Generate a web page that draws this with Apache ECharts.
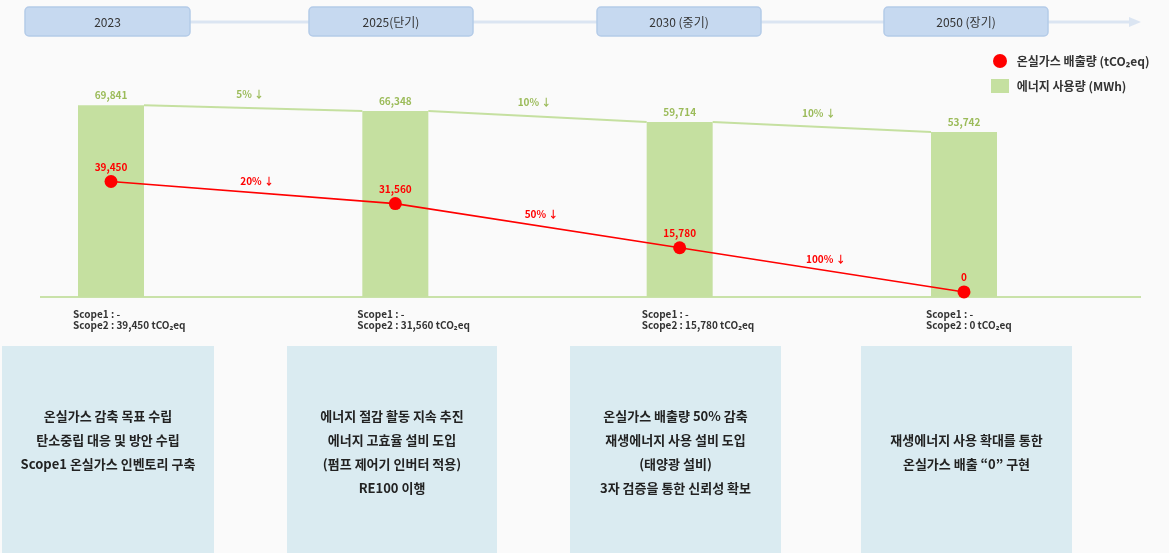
<!DOCTYPE html>
<html><head><meta charset="utf-8">
<script src="https://cdn.jsdelivr.net/npm/echarts@6/dist/echarts.min.js"></script>
<style>html,body{margin:0;padding:0;background:#fafafa}#c{width:1169px;height:553px}</style>
</head><body><div id="c"></div>
<script>
// ---- data ----
const categories = ['2023', '2025', '2030', '2050'];
const timelineLabels = ['2023', '2025(단기)', '2030 (중기)', '2050 (장기)'];
const energyMWh = [69841, 66348, 59714, 53742];
const emissions = [39450, 31560, 15780, 0];
const energyCutLabels = ['5% ↓', '10% ↓', '10% ↓'];
const emissionCutLabels = ['20% ↓', '50% ↓', '100% ↓'];
const scope1Values = ['-', '-', '-', '-'];
const plans = [
  ['온실가스 감축 목표 수립', '탄소중립 대응 및 방안 수립', 'Scope1 온실가스 인벤토리 구축'],
  ['에너지 절감 활동 지속 추진', '에너지 고효율 설비 도입', '(펌프 제어기 인버터 적용)', 'RE100 이행'],
  ['온실가스 배출량 50% 감축', '재생에너지 사용 설비 도입', '(태양광 설비)', '3자 검증을 통한 신뢰성 확보'],
  ['재생에너지 사용 확대를 통한', '온실가스 배출 “0” 구현']
];
const seriesNames = ['온실가스 배출량 (tCO₂eq)', '에너지 사용량 (MWh)'];

// ---- style ----
const FONT = '"Noto Sans CJK KR", "Noto Sans", sans-serif';
const BAR_W = 66;
const GREEN = '#c5e0a0';
const GREEN_TXT = '#9bbb59';
const RED = '#ff0000';
const BAR_AXIS_MIN = -46000;
const fmt = v => v.toLocaleString('en-US');

const energySegments = energyMWh.slice(0, -1).map((v, i) => [i, v, energyMWh[i + 1]]);
const emissionSegments = emissions.slice(0, -1).map((v, i) => [i, v, emissions[i + 1]]);

const chart = echarts.init(document.getElementById('c'));

function segRender(labels, color, txtColor, lineOn, offX, offY) {
  return function (params, api) {
    const i = api.value(0);
    const p0 = api.coord([i, api.value(1)]);
    const p1 = api.coord([i + 1, api.value(2)]);
    const children = [];
    if (lineOn) {
      children.push({
        type: 'line',
        shape: { x1: p0[0] + BAR_W / 2, y1: p0[1], x2: p1[0] - BAR_W / 2, y2: p1[1] },
        style: { stroke: color, lineWidth: 2 }
      });
    }
    children.push({
      type: 'text',
      x: (p0[0] + p1[0]) / 2 + offX,
      y: (p0[1] + p1[1]) / 2 - offY,
      style: {
        text: labels[params.dataIndex], fill: txtColor, font: 'bold 10px ' + FONT,
        textAlign: 'center', textVerticalAlign: 'middle'
      }
    });
    return { type: 'group', children };
  };
}

// bars drawn from the bottom of the value axis up to each value
function barRender(params, api) {
  const top = api.coord([api.value(0), api.value(1)]);
  const base = api.coord([api.value(0), BAR_AXIS_MIN]);
  return {
    type: 'rect',
    shape: { x: top[0] - BAR_W / 2, y: top[1], width: BAR_W, height: base[1] - top[1] },
    style: { fill: GREEN },
    textContent: {
      style: { text: fmt(api.value(1)), fill: GREEN_TXT, font: 'bold 10px ' + FONT }
    },
    textConfig: { position: 'top', distance: 5 }
  };
}

chart.setOption({
  backgroundColor: '#fafafa',
  animation: false,
  textStyle: { fontFamily: FONT },
  grid: { left: 111, right: 205, top: 100, bottom: 256 },
  legend: {
    orient: 'vertical', left: 986, top: 49, itemWidth: 18, itemHeight: 14, itemGap: 11,
    data: [{ name: seriesNames[0], icon: 'circle' }, { name: seriesNames[1], icon: 'rect' }],
    formatter: n => ' ' + n,
    textStyle: { fontFamily: FONT, fontSize: 12, fontWeight: 'bold', color: '#333' }
  },
  xAxis: {
    type: 'category', data: categories, boundaryGap: false,
    axisLine: { show: false }, axisTick: { show: false }, axisLabel: { show: false }
  },
  yAxis: [
    { type: 'value', min: BAR_AXIS_MIN, max: 73000, show: false, splitLine: { show: false } },
    { type: 'value', min: -1800, max: 68560, show: false, splitLine: { show: false } }
  ],
  series: [
    {
      name: seriesNames[1], type: 'custom', yAxisIndex: 0, z: 2,
      data: energyMWh.map((v, i) => [i, v]),
      itemStyle: { color: GREEN },
      renderItem: barRender
    },
    {
      type: 'custom', data: energySegments, yAxisIndex: 0, z: 3, silent: true,
      renderItem: segRender(energyCutLabels, GREEN, GREEN_TXT, true, -3, 14)
    },
    {
      name: seriesNames[0], type: 'line', data: emissions, yAxisIndex: 1, z: 5,
      symbol: 'circle', symbolSize: 13,
      lineStyle: { color: RED, width: 1.6 }, itemStyle: { color: RED },
      label: {
        show: true, position: 'top', distance: 3, formatter: p => fmt(p.value),
        color: RED, fontSize: 10, fontWeight: 'bold', fontFamily: FONT
      }
    },
    {
      type: 'custom', data: emissionSegments, yAxisIndex: 1, z: 6, silent: true,
      renderItem: segRender(emissionCutLabels, RED, RED, false, 4, 11)
    }
  ]
});

// ---- layout graphics (boxes, timeline, scope notes) ----
const topBoxes = [[25, 190], [309, 473], [597, 761], [884, 1048]];
const botBoxes = [[2, 214], [287, 497], [570, 781], [861, 1072]];
const botFirstLine = [416, 416, 416, 440];
const g = [];
g.push({ type: 'line', shape: { x1: 30, y1: 22, x2: 1131, y2: 22 }, style: { stroke: '#dbe5f2', lineWidth: 3 } });
g.push({ type: 'polygon', shape: { points: [[1129, 17], [1141, 22], [1129, 27]] }, style: { fill: '#dbe5f2' } });
topBoxes.forEach((b, i) => {
  g.push({ type: 'rect', shape: { x: b[0], y: 7, width: b[1] - b[0], height: 29, r: 4 },
    style: { fill: '#c6d9f0', stroke: '#b4cbe8', lineWidth: 1.5 } });
  g.push({ type: 'text', x: (b[0] + b[1]) / 2, y: 22,
    style: { text: timelineLabels[i], font: '12px ' + FONT, fill: '#333', textAlign: 'center', textVerticalAlign: 'middle' } });
});
g.push({ type: 'line', shape: { x1: 40, y1: 297, x2: 1141, y2: 297 }, style: { stroke: '#c9e2a9', lineWidth: 2 }, z: 1 });
categories.forEach((c, i) => {
  const x = chart.convertToPixel({ xAxisIndex: 0 }, i);
  g.push({ type: 'text', x: x - 38, y: 308,
    style: { text: 'Scope1 : ' + scope1Values[i] + '\nScope2 : ' + fmt(emissions[i]) + ' tCO₂eq',
      font: 'bold 10px ' + FONT, fill: '#333', lineHeight: 11.5, textAlign: 'left', textVerticalAlign: 'top' } });
});
botBoxes.forEach((b, i) => {
  g.push({ type: 'rect', shape: { x: b[0], y: 346, width: b[1] - b[0], height: 210 }, style: { fill: '#daebf1' } });
  g.push({ type: 'text', x: (b[0] + b[1]) / 2, y: botFirstLine[i] - 12,
    style: { text: plans[i].join('\n'), font: 'bold 13px ' + FONT, fill: '#222', lineHeight: 24,
      textAlign: 'center', textVerticalAlign: 'top' } });
});
chart.setOption({ graphic: g });
</script></body></html>
